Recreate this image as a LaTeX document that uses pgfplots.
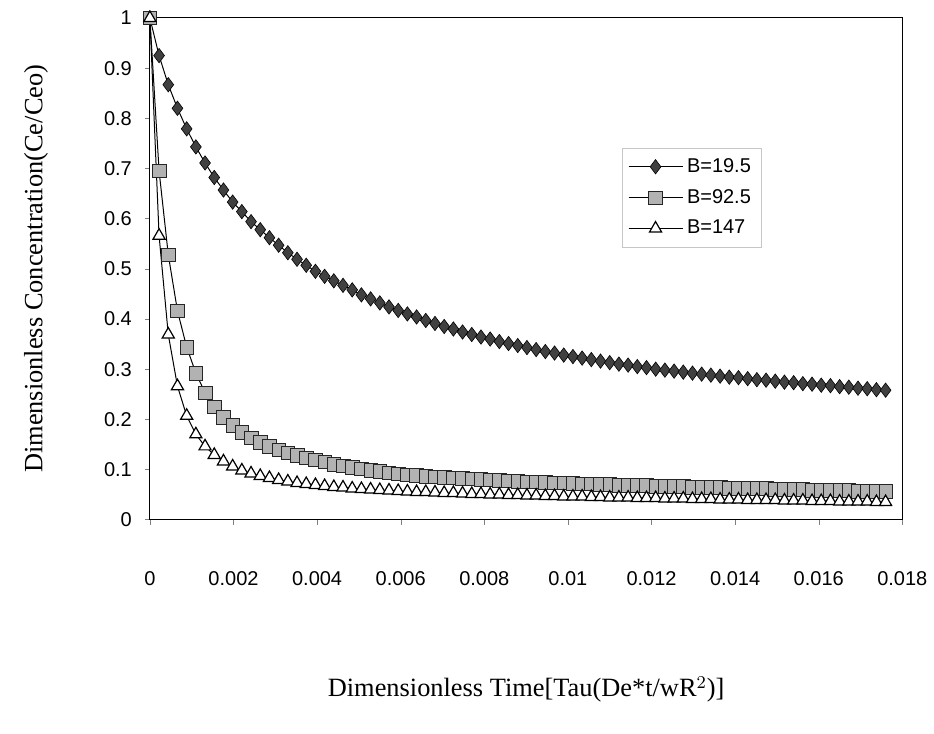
\documentclass[border=0pt]{standalone}
\usepackage{fontspec}
\usepackage{pgfplots}
\usepackage{pgfplotstable}
\pgfplotsset{compat=1.18}
\setmainfont{Liberation Serif}
\newfontfamily\arial{Liberation Sans}

% x = dimensionless time, a: B=19.5, b: B=92.5, c: B=147
\pgfplotstableread{
x a b c
0 1.000 1.000 1.000
0.00022 0.925 0.695 0.566
0.00044 0.867 0.528 0.369
0.00066 0.820 0.416 0.266
0.00088 0.779 0.344 0.207
0.0011 0.743 0.292 0.170
0.00132 0.711 0.253 0.146
0.00154 0.682 0.225 0.129
0.00176 0.657 0.204 0.116
0.00198 0.633 0.188 0.106
0.0022 0.614 0.174 0.098
0.00242 0.594 0.163 0.092
0.00264 0.578 0.154 0.087
0.00286 0.562 0.146 0.083
0.00308 0.547 0.139 0.079
0.0033 0.532 0.133 0.076
0.00352 0.519 0.128 0.073
0.00374 0.507 0.123 0.071
0.00396 0.495 0.119 0.069
0.00418 0.485 0.115 0.067
0.0044 0.476 0.110 0.065
0.00462 0.467 0.107 0.064
0.00484 0.458 0.104 0.062
0.00506 0.448 0.101 0.061
0.00528 0.440 0.098 0.060
0.0055 0.432 0.096 0.059
0.00572 0.424 0.093 0.058
0.00594 0.417 0.091 0.057
0.00616 0.410 0.089 0.056
0.00638 0.404 0.088 0.055
0.0066 0.397 0.086 0.055
0.00682 0.391 0.085 0.054
0.00704 0.385 0.084 0.053
0.00726 0.380 0.083 0.053
0.00748 0.374 0.082 0.052
0.0077 0.369 0.081 0.051
0.00792 0.364 0.080 0.051
0.00814 0.360 0.079 0.050
0.00836 0.355 0.078 0.050
0.00858 0.351 0.077 0.049
0.0088 0.347 0.076 0.049
0.00902 0.343 0.075 0.048
0.00924 0.339 0.075 0.048
0.00946 0.335 0.074 0.047
0.00968 0.332 0.073 0.047
0.0099 0.328 0.073 0.046
0.01012 0.325 0.072 0.046
0.01034 0.322 0.071 0.046
0.01056 0.319 0.071 0.045
0.01078 0.316 0.070 0.045
0.011 0.313 0.070 0.044
0.01122 0.310 0.069 0.044
0.01144 0.308 0.069 0.044
0.01166 0.305 0.068 0.043
0.01188 0.303 0.068 0.043
0.0121 0.300 0.067 0.043
0.01232 0.298 0.067 0.042
0.01254 0.296 0.066 0.042
0.01276 0.294 0.066 0.042
0.01298 0.292 0.065 0.041
0.0132 0.290 0.065 0.041
0.01342 0.288 0.064 0.041
0.01364 0.286 0.064 0.040
0.01386 0.284 0.063 0.040
0.01408 0.283 0.063 0.040
0.0143 0.281 0.062 0.039
0.01452 0.279 0.062 0.039
0.01474 0.278 0.062 0.039
0.01496 0.276 0.061 0.039
0.01518 0.274 0.061 0.038
0.0154 0.273 0.060 0.038
0.01562 0.271 0.060 0.038
0.01584 0.270 0.059 0.037
0.01606 0.268 0.059 0.037
0.01628 0.267 0.059 0.037
0.0165 0.265 0.058 0.036
0.01672 0.264 0.058 0.036
0.01694 0.262 0.057 0.036
0.01716 0.261 0.057 0.036
0.01738 0.259 0.057 0.035
0.0176 0.258 0.056 0.035
}\conc

\begin{document}
\begin{tikzpicture}
\begin{axis}[
  scale only axis,
  width=376.5pt, height=251pt,
  xmin=0, xmax=0.018,
  ymin=0, ymax=1,
  clip=false,
  axis line style={line width=0.5pt},
  xtick={0,0.002,0.004,0.006,0.008,0.01,0.012,0.014,0.016,0.018},
  xticklabels={0,0.002,0.004,0.006,0.008,0.01,0.012,0.014,0.016,0.018},
  ytick={0,0.1,0.2,0.3,0.4,0.5,0.6,0.7,0.8,0.9,1},
  yticklabels={0,0.1,0.2,0.3,0.4,0.5,0.6,0.7,0.8,0.9,1},
  scaled x ticks=false,
  xtick pos=bottom, ytick pos=left,
  tick align=outside,
  major tick length=2.5pt,
  tick label style={font=\arial\fontsize{10}{12}\selectfont},
  xticklabel style={yshift=-20pt},
  yticklabel style={xshift=-3pt},
  xlabel={Dimensionless Time[Tau(De*t/wR$^{2}$)]},
  ylabel={Dimensionless Concentration(Ce/Ceo)},
  label style={font=\fontsize{13.2}{15}\selectfont},
  xlabel style={at={(axis description cs:0.5,0)}, anchor=center, yshift=-85pt},
  ylabel style={at={(axis description cs:0,0.5)}, anchor=center, rotate=0, yshift=57pt},
  legend style={at={(0.627,0.741)}, anchor=north west, draw=gray!45,
    font=\arial\fontsize{10}{12}\selectfont, row sep=3pt,
    inner xsep=3pt, inner ysep=3pt},
  legend cell align=left,
  legend image code/.code={
    \draw[mark repeat=2,mark phase=2,#1] plot coordinates {(0pt,0pt)(13.5pt,0pt)(27pt,0pt)};},
]
\addplot[black, line width=0.5pt, mark=diamond*, mark size=3.6pt,
  mark options={fill=gray!50!black, draw=black, line width=0.3pt}]
  table[x=x, y=a] {\conc};
\addlegendentry{B=19.5}
\addplot[black, line width=0.5pt, mark=square*, mark size=3.4pt,
  mark options={fill=gray!60, draw=gray!30!black, line width=0.3pt}]
  table[x=x, y=b] {\conc};
\addlegendentry{B=92.5}
\addplot[black, line width=0.5pt, mark=triangle*, mark size=3.5pt,
  mark options={fill=white, draw=black, line width=0.6pt}]
  table[x=x, y=c] {\conc};
\addlegendentry{B=147}
\end{axis}
\path[use as bounding box] (-75pt,-107pt) rectangle (391.5pt,260pt);
\end{tikzpicture}
\end{document}
